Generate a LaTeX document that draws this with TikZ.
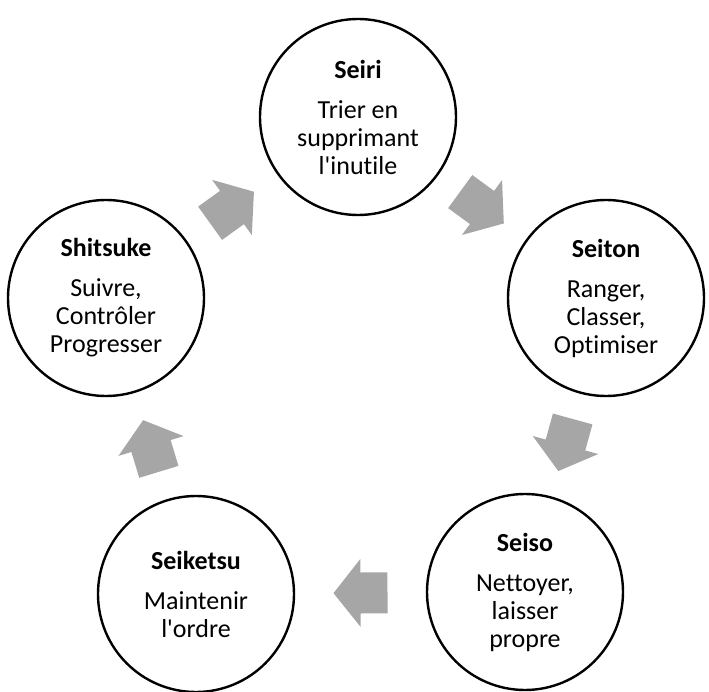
\documentclass[tikz,border=0pt]{standalone}
\usepackage{fontspec}
\setmainfont{Carlito}[Ligatures={NoCommon,TeXOff}]
\usetikzlibrary{calc}

\definecolor{arrowgray}{RGB}{166,166,166}
\newcommand{\stagetext}[2]{\textbf{#1}\\[12pt]#2}

\tikzset{
  stage/.style={circle, draw=black, line width=2.4pt, fill=white,
    minimum size=196pt, inner sep=0pt, align=center,
    font=\fontsize{26}{28}\selectfont},
  cyclearrow/.pic={
    \fill[arrowgray] (-27,-20.5) -- (0,-20.5) -- (0,-34) -- (27,0)
      -- (0,34) -- (0,20.5) -- (-27,20.5) -- cycle;
  }
}

\begin{document}
\begin{tikzpicture}[x=1pt,y=1pt]
  \useasboundingbox (0,0) rectangle (709,-692);

  % the five stages of the 5S cycle
  \node[stage] (seiri)    at (358,-117) {\stagetext{Seiri}{Trier en\\supprimant\\l'inutile}};
  \node[stage] (seiton)   at (606,-298) {\stagetext{Seiton}{Ranger,\\Classer,\\Optimiser}};
  \node[stage] (seiso)    at (525,-592) {\stagetext{Seiso}{Nettoyer,\\laisser\\propre}};
  \node[stage] (seiketsu) at (196,-594) {\stagetext{Seiketsu}{Maintenir\\l'ordre}};
  \node[stage] (shitsuke) at (106,-298) {\stagetext{Shitsuke}{Suivre,\\Contrôler\\Progresser}};

  % block arrows halfway between consecutive stages
  \foreach \a/\b in {seiri/seiton, seiton/seiso, seiso/seiketsu,
                     seiketsu/shitsuke, shitsuke/seiri} {
    \path let \p1=($(\b.center)-(\a.center)$), \n1={atan2(\y1,\x1)} in
      pic[rotate=\n1] at ($(\a.center)!0.5!(\b.center)$) {cyclearrow};
  }
\end{tikzpicture}
\end{document}
